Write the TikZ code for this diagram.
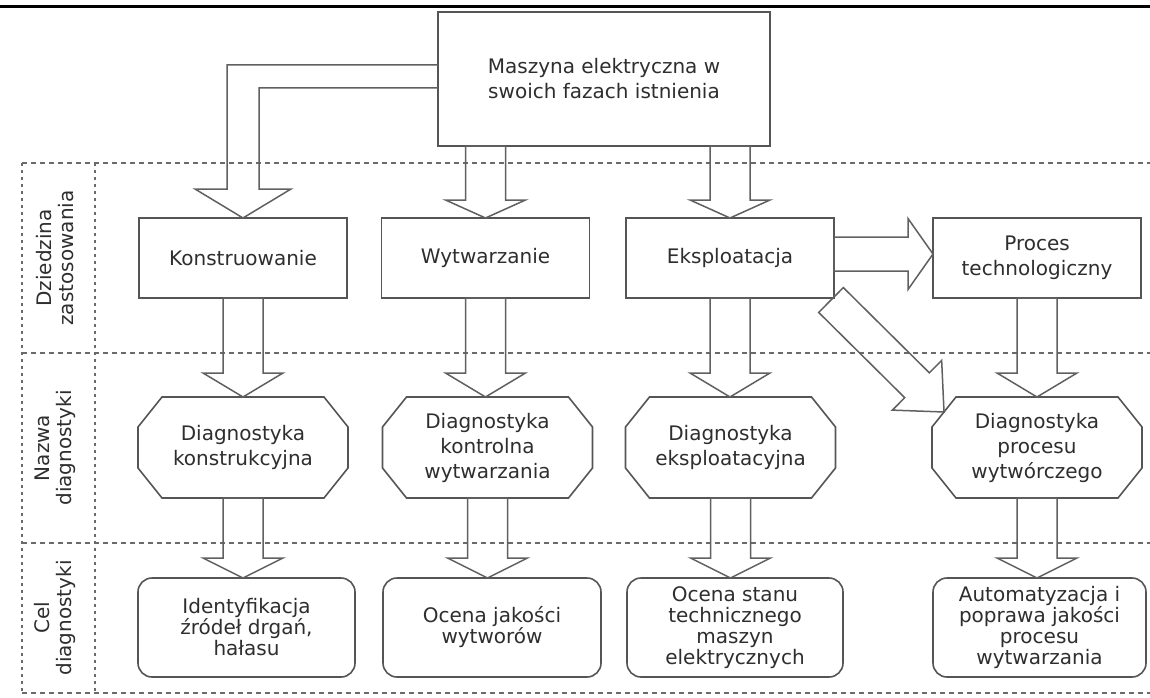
\documentclass[tikz,border=0pt]{standalone}
\usepackage{fontspec}
\setmainfont{DejaVu Sans}
\usetikzlibrary{calc}

\definecolor{linegray}{HTML}{555555}
\definecolor{arrgray}{HTML}{606060}
\definecolor{lanegray}{HTML}{6A6A6A}
\definecolor{txtgray}{HTML}{2E2E2E}

\newcommand\boxfont{\fontsize{20pt}{25pt}\selectfont}
\newcommand\celfont{\fontsize{20pt}{21pt}\selectfont}
\newcommand\lanefont{\fontsize{20pt}{22pt}\selectfont}

% block arrow from tail #1 to tip #2:
% shaft half width #3, head half width #4, head length #5
\newcommand\blockarrow[5]{%
  \coordinate (ba-t) at #1;
  \coordinate (ba-h) at #2;
  \coordinate (ba-b) at ($(ba-h)!#5!(ba-t)$);
  \draw[blockarr] ($(ba-t)!#3!90:(ba-h)$) -- ($(ba-b)!#3!90:(ba-h)$)
    -- ($(ba-b)!#4!90:(ba-h)$) -- (ba-h) -- ($(ba-b)!#4!-90:(ba-h)$)
    -- ($(ba-b)!#3!-90:(ba-h)$) -- ($(ba-t)!#3!-90:(ba-h)$) -- cycle;}

% octagonal outline around a (rectangular, undrawn) node
\newcommand\octoutline[1]{%
  \draw[boxline] ($(#1.north west)+(24,0)$) -- ($(#1.north east)+(-24,0)$)
    -- ($(#1.north east)+(0,30)$) -- ($(#1.south east)+(0,-30)$)
    -- ($(#1.south east)+(-24,0)$) -- ($(#1.south west)+(24,0)$)
    -- ($(#1.south west)+(0,-30)$) -- ($(#1.north west)+(0,30)$) -- cycle;}

\tikzset{
  boxline/.style={draw=linegray, line width=1.6pt, line join=miter},
  rectbox/.style={boxline, rectangle, minimum width=208pt, minimum height=80pt,
    inner sep=0pt, outer sep=0pt, align=center, font=\boxfont, text=txtgray},
  octnode/.style={rectangle, minimum width=210pt, minimum height=101pt,
    inner sep=0pt, outer sep=0pt, align=center, font=\boxfont, text=txtgray},
  celbox/.style={boxline, rectangle, rounded corners=14pt, minimum height=99pt,
    inner sep=0pt, outer sep=0pt, align=center, font=\celfont, text=txtgray},
  blockarr/.style={draw=arrgray, line width=1.5pt, line join=miter},
  lane/.style={draw=lanegray, line width=1.7pt, dash pattern=on 5pt off 4pt},
  lanev/.style={draw=lanegray, line width=1.7pt, dash pattern=on 3pt off 4pt},
  lanelabel/.style={rotate=90, align=center, font=\lanefont, text=txtgray},
}

\begin{document}
\begin{tikzpicture}[x=1pt,y=-1pt]
\useasboundingbox (0,0) rectangle (1150,698);
\fill[white] (0,0) rectangle (1150,698);

% header rule
\draw[line width=3pt] (0,7) -- (1150,7);

% lane grid
\foreach \yy in {163,353,543,693} \draw[lane] (22,\yy) -- (1150,\yy);
\foreach \xx in {22,95} \draw[lanev] (\xx,163) -- (\xx,693);

% lane labels
\node[lanelabel] (l1) at (55,258) {Dziedzina\\zastosowania};
\node[lanelabel] (l2) at (55,448) {Nazwa\\diagnostyki};
\node[lanelabel] (l3) at (55,618) {Cel\\diagnostyki};

% top box
\node[rectbox, minimum width=332pt, minimum height=134pt] (top) at (604,79)
  {Maszyna elektryczna w\\swoich fazach istnienia};

% application domains
\node[rectbox] (k) at (243,258) {Konstruowanie};
\node[rectbox] (w) at (485.5,258) {Wytwarzanie};
\node[rectbox] (e) at (730,258) {Eksploatacja};
\node[rectbox] (p) at (1037,258) {Proces\\technologiczny};

% diagnostics names
\node[octnode] (dk) at (243,447.5) {Diagnostyka\\konstrukcyjna};
\node[octnode] (dw) at (487.5,447.5) {Diagnostyka\\kontrolna\\wytwarzania};
\node[octnode] (de) at (730.5,447.5) {Diagnostyka\\eksploatacyjna};
\node[octnode] (dp) at (1037,447.5) {Diagnostyka\\procesu\\wytwórczego};
\octoutline{dk}
\octoutline{dw}
\octoutline{de}
\octoutline{dp}

% diagnostics goals
\node[celbox, minimum width=217pt] (ck) at (246.5,627.5)
  {Identyfikacja\\źródeł drgań,\\hałasu};
\node[celbox, minimum width=218pt] (cw) at (492,627.5)
  {Ocena jakości\\wytworów};
\node[celbox, minimum width=216pt] (ce) at (735,627.5)
  {Ocena stanu\\technicznego\\maszyn\\elektrycznych};
\node[celbox, minimum width=213pt] (cp) at (1039.5,627.5)
  {Automatyzacja i\\poprawa jakości\\procesu\\wytwarzania};

% L-shaped arrow from the top box to Konstruowanie
\draw[blockarr] ($(top.north west)+(0,53)$) -| ($(k.north)+(-16,-29)$)
  -- ($(k.north)+(-48,-29)$) -- (k.north) -- ($(k.north)+(48,-29)$)
  -- ($(k.north)+(16,-29)$) |- ($(top.north west)+(0,76)$);

% top box to domains
\blockarrow{(w.north |- top.south)}{(w.north)}{20pt}{40pt}{18pt}
\blockarrow{(e.north |- top.south)}{(e.north)}{20pt}{40pt}{18pt}

% domains to diagnostics names
\blockarrow{(k.south)}{(k.south |- dk.north)}{20pt}{40pt}{24pt}
\blockarrow{(w.south)}{(w.south |- dw.north)}{20pt}{40pt}{24pt}
\blockarrow{(e.south)}{(e.south |- de.north)}{20pt}{40pt}{24pt}
\blockarrow{(p.south)}{(p.south |- dp.north)}{20pt}{40pt}{24pt}

% diagnostics names to goals
\blockarrow{(dk.south)}{(dk.south |- ck.north)}{20pt}{40pt}{20pt}
\blockarrow{(dw.south)}{(dw.south |- cw.north)}{20pt}{40pt}{20pt}
\blockarrow{(de.south)}{(de.south |- ce.north)}{20pt}{40pt}{20pt}
\blockarrow{(dp.south)}{(dp.south |- cp.north)}{20pt}{40pt}{20pt}

% Eksploatacja to Proces technologiczny
\blockarrow{([yshift=4pt]e.east)}{([yshift=4pt]p.west)}{17pt}{35.5pt}{25pt}

% Eksploatacja to Diagnostyka procesu wytwórczego
\blockarrow{($(e.south east)+(-3,2)$)}{($(dp.north west)+(12,15)$)}{17.5pt}{35pt}{38pt}
\end{tikzpicture}
\end{document}
